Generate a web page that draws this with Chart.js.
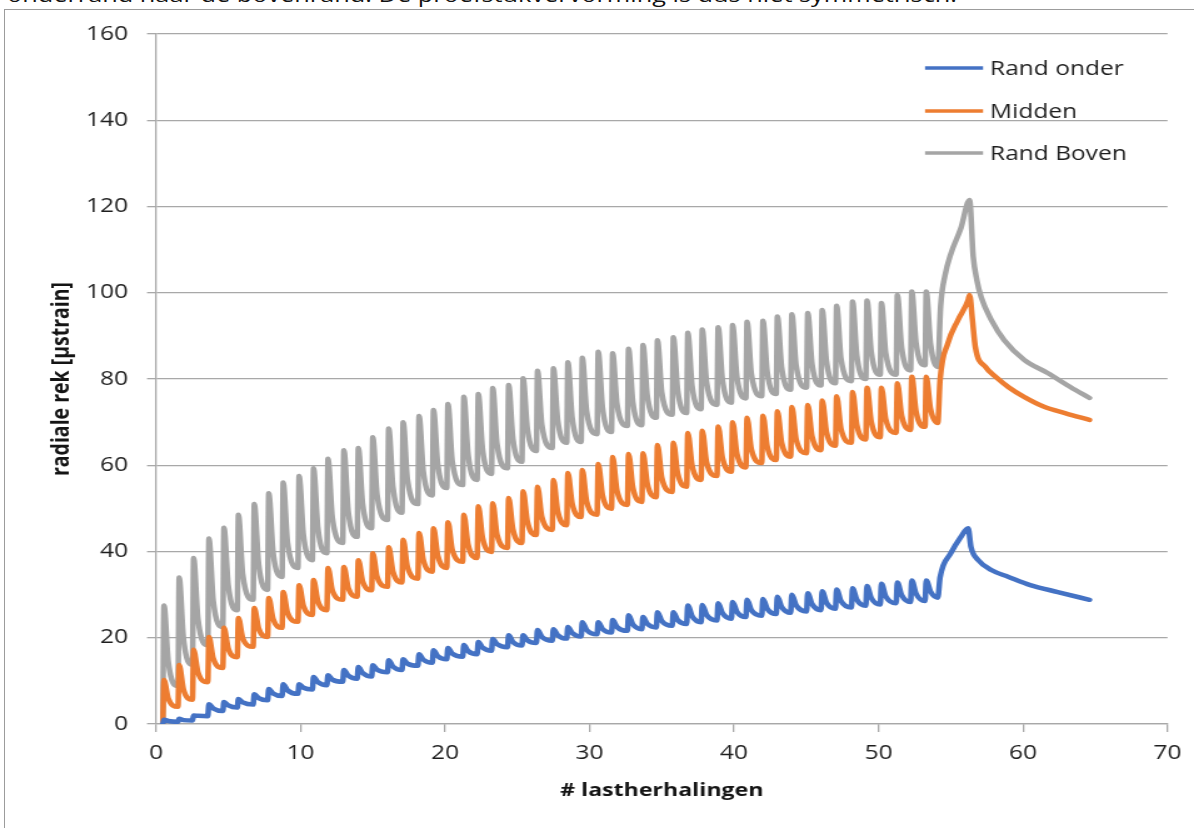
<!DOCTYPE html>
<html>
<head>
<meta charset="utf-8">
<script src="https://cdn.jsdelivr.net/npm/chart.js@4.4.1/dist/chart.umd.min.js"></script>
<style>
  html, body { margin: 0; padding: 0; background: #fff; width: 1194px; height: 828px; overflow: hidden; }
  #caption { position: absolute; left: 7px; top: -15px; font: 20px "Open Sans", sans-serif; line-height: 1; color: #111; white-space: nowrap; transform-origin: 0 0; }
  #frame { position: absolute; left: 4px; top: 9px; width: 1200px; height: 840px; border-left: 1px solid #9c9c9c; border-top: 1px solid #9c9c9c; }
  #wrap { position: absolute; left: 0; top: 0; width: 955px; height: 828px; transform: scaleX(1.2503); transform-origin: 0 0; }
</style>
</head>
<body>
<div id="caption">onderrand naar de bovenrand. De proefstukvervorming is dus niet symmetrisch.</div>
<div id="frame"></div>
<div id="wrap"><canvas id="chart"></canvas></div>
<script>
// Load cycles: x position (number of load repetitions) of each load peak
const cycleX = [0.55, 1.6, 2.6, 3.66, 4.7, 5.7, 6.8, 7.8, 8.8, 9.9, 10.9, 11.9, 13.0, 14.0, 15.0, 16.1, 17.1, 18.2, 19.2, 20.2,
  21.3, 22.3, 23.3, 24.4, 25.4, 26.4, 27.5, 28.5, 29.5, 30.6, 31.6, 32.7, 33.7, 34.7, 35.8, 36.8, 37.8, 38.9, 39.9, 40.9,
  42.0, 43.0, 44.0, 45.1, 46.1, 47.1, 48.2, 49.2, 50.2, 51.3, 52.3, 53.3];

// Rand onder: strain at the start of each cycle, at the peak, and after the fast relaxation
const blueTroughs = [0, 0.5, 0.8, 1.8, 3, 3.8, 4.5, 5.5, 6.5, 7, 8, 9, 9.8, 10.5, 11, 12, 12.5, 13.5, 14.2, 15,
  15.6, 16.2, 17, 17.8, 18.2, 18.8, 19.3, 19.8, 20.3, 20.8, 21.2, 21.6, 22, 22.4, 22.8, 23.2, 23.6, 24, 24.4, 24.8,
  25.1, 25.5, 25.8, 26.1, 26.4, 26.7, 27, 27.4, 27.7, 28, 28.3, 28.5];
const bluePeaks = [1, 1.2, 2, 4.6, 5.1, 5.8, 6.9, 8.1, 9.2, 9.2, 10.9, 11.3, 12.5, 13.2, 13.6, 14.8, 15, 16.2, 17.1, 17.6,
  18.3, 19, 19.7, 20.6, 20.6, 21.8, 22, 22.5, 23.6, 23.6, 24.1, 25.2, 24.8, 25.9, 25.9, 27.5, 27.6, 28, 28.3, 28.8,
  29, 29.5, 30, 30.3, 30.8, 31.2, 31.5, 32, 32.5, 32.8, 33.3, 33.3];
const blueKnees = [0.7, 0.9, 1.9, 3.6, 4.3, 5, 6, 7.1, 7.8, 8.4, 9.7, 10.3, 11.2, 11.8, 12.6, 13.3, 14, 14.9, 15.7, 16.3,
  16.9, 17.7, 18.5, 19, 19.4, 20.2, 20.6, 21.1, 21.8, 22, 22.5, 23.1, 23.2, 23.9, 24.1, 25, 25.3, 25.7, 26, 26.4,
  26.7, 27.1, 27.5, 27.8, 28.1, 28.5, 28.8, 29.2, 29.6, 29.9, 30.2, 30.7];
const blueTailX = [54.1, 54.26, 55.0, 55.7, 56.2, 56.4, 56.9, 57.8, 59.0, 60.5, 62.4, 64.6];
const blueTailY = [29.3, 34, 39.6, 43.4, 45.4, 41, 38, 35.7, 34.1, 32.2, 30.6, 28.8];

// Midden
const orangeTroughs = [0, 4, 5.6, 9.7, 13, 15.5, 17.9, 20.2, 22.3, 23.7, 25.3, 26.4, 28.8, 29.5, 31, 31.8, 32.8, 33.7, 35.3, 36.2,
  37.6, 38.5, 39.9, 40.8, 42, 43.8, 45, 46.1, 48, 48.5, 49.9, 50.8, 51.5, 52.6, 53.8, 55, 56.6, 57.5, 58.5, 59.5,
  60.5, 61.2, 62, 62.8, 63.5, 64.5, 65.2, 66, 66.5, 67.5, 68.2, 68.9];
const orangePeaks = [10.2, 13.7, 17.2, 20.2, 22.3, 24.6, 26.9, 29.2, 30.6, 32.2, 33.4, 36.2, 36.4, 38, 39.6, 41, 42.7, 44.3, 45.4, 46.8,
  48.5, 50.5, 51.2, 52.4, 54, 55, 56.6, 58.2, 58.9, 60.3, 61.9, 62.6, 62.8, 64.7, 65.2, 67.5, 68, 69, 70, 71,
  71.5, 72.5, 73.5, 74, 75, 76, 77, 78, 78, 79, 80.5, 80.5];
const orangeKnees = [5.9, 8, 12, 15.2, 17.5, 19.9, 22.2, 24.4, 25.8, 27.4, 28.5, 31, 31.6, 33.1, 34.1, 35.3, 36.4, 38, 39, 40.4,
  41.5, 43.1, 43.9, 45.1, 46.9, 48, 49.3, 51.1, 51.6, 53, 54.1, 54.8, 55.7, 57.1, 58.1, 59.9, 60.7, 61.7, 62.7, 63.7,
  64.3, 65.2, 66, 66.7, 67.7, 68.5, 69.3, 70, 70.7, 71.5, 72.4, 73];
const orangeTailX = [54.1, 54.26, 54.8, 55.5, 56.2, 56.3, 56.5, 56.7, 57.4, 58.1, 59.0, 60.1, 61.5, 62.9, 64.6];
const orangeTailY = [69.8, 79.8, 88.3, 93.7, 98.3, 99.5, 93.7, 87.4, 82.8, 80.5, 78.1, 75.8, 73.5, 72.1, 70.5];

// Rand Boven
const greyTroughs = [0, 8.8, 13.7, 18.3, 22.5, 26.4, 28.8, 31.1, 34.1, 36.2, 38, 39.6, 42, 43.4, 45.4, 47.3, 49, 51, 53, 54.7,
  55.4, 56.6, 58, 59.3, 60.8, 63.3, 64, 65.2, 65.4, 67.2, 67.7, 69.1, 69.3, 71, 71.7, 72.1, 73, 74, 74.5, 75.5,
  76, 76.5, 77.5, 78, 78.5, 79, 79.5, 80, 81, 81, 82, 83.2];
const greyPeaks = [27.5, 34, 38.5, 43, 45.5, 48.5, 51, 53.5, 56, 57.5, 59.3, 61.5, 63.5, 64, 66.5, 68.5, 70, 71.4, 72.8, 74.2,
  75.9, 76.5, 77.9, 78.6, 80.2, 81.9, 82.5, 83.9, 84.9, 86.3, 86, 87, 87.9, 89, 89.7, 90.7, 91.5, 92, 92.5, 93.3,
  93.5, 94.5, 95, 95.3, 96, 97, 98, 98.2, 97.6, 99.5, 100.3, 100.3];
const greyKnees = [14.4, 19.8, 24.4, 28.6, 32.1, 34.7, 37.1, 39.9, 42.1, 43.9, 45.5, 47.9, 49.4, 51, 53.1, 54.9, 56.7, 58.5, 60.1, 61,
  62.4, 63.6, 64.9, 66.1, 68.4, 69.4, 70.4, 71, 72.5, 73.3, 74.2, 74.6, 76.1, 76.9, 77.4, 78.3, 79.3, 79.8, 80.6, 81.2,
  81.6, 82.6, 83.1, 83.5, 84.1, 84.8, 85.4, 86.2, 86, 87.3, 88.3, 88.1];
const greyTailX = [54.1, 54.3, 54.6, 55.0, 55.7, 56.3, 56.55, 56.8, 57.1, 57.8, 58.7, 60.1, 61.7, 63.3, 64.6];
const greyTailY = [82.8, 97, 104, 109, 115, 121.5, 108.5, 103, 99, 93.7, 89, 84.4, 81.4, 78.1, 75.6];

const seriesNames = ['Rand onder', 'Midden', 'Rand Boven'];
const xTicks = { min: 0, max: 70, step: 10 };
const yTicks = { min: 0, max: 160, step: 20 };

// Shape of one load cycle: the load rises just before the peak, relaxes quickly to the knee
const RISE = 0.08;
const KNEE = 0.3;

function buildSeries(troughs, peaks, knees, tailX, tailY) {
  const pts = [];
  cycleX.forEach((cx, k) => {
    pts.push({ x: cx - RISE, y: troughs[k] });
    pts.push({ x: cx, y: peaks[k] });
    pts.push({ x: cx + KNEE, y: knees[k] });
  });
  tailX.forEach((x, i) => pts.push({ x: x, y: tailY[i] }));
  return pts;
}

// Caption line above the chart frame
const caption = document.getElementById('caption');
const capW = caption.getBoundingClientRect().width;
caption.style.transform = 'scaleX(' + (950 / capW) + ')';

// The chart is drawn on a narrower canvas and stretched horizontally
const SX = 1194 / 955;
const cx = v => v / SX;

const gridColor = '#a8a8a8';
const textColor = '#1e1e1e';
const tickFont = { family: 'Open Sans', size: 19.6 };

const legendInside = {
  id: 'legendInside',
  afterDraw(chart) {
    const ctx = chart.ctx;
    const rows = [68, 111, 153];
    chart.data.datasets.forEach((ds, i) => {
      ctx.save();
      ctx.strokeStyle = ds.borderColor;
      ctx.lineWidth = 3.5;
      ctx.lineCap = 'butt';
      ctx.beginPath();
      ctx.moveTo(cx(925), rows[i]);
      ctx.lineTo(cx(983), rows[i]);
      ctx.stroke();
      ctx.fillStyle = textColor;
      ctx.font = '19.6px "Open Sans"';
      ctx.textAlign = 'left';
      ctx.textBaseline = 'middle';
      ctx.fillText(ds.label, cx(990), rows[i] + 1);
      ctx.restore();
    });
  }
};

new Chart(document.getElementById('chart'), {
  type: 'line',
  data: {
    datasets: [
      { label: seriesNames[0], data: buildSeries(blueTroughs, bluePeaks, blueKnees, blueTailX, blueTailY), borderColor: '#4472C4' },
      { label: seriesNames[1], data: buildSeries(orangeTroughs, orangePeaks, orangeKnees, orangeTailX, orangeTailY), borderColor: '#ED7D31' },
      { label: seriesNames[2], data: buildSeries(greyTroughs, greyPeaks, greyKnees, greyTailX, greyTailY), borderColor: '#A5A5A5' }
    ]
  },
  options: {
    responsive: true,
    maintainAspectRatio: false,
    animation: false,
    layout: { padding: { left: 0, right: 955 - cx(1170), top: 34, bottom: 0 } },
    elements: {
      point: { radius: 0, hoverRadius: 0 },
      line: { cubicInterpolationMode: 'monotone', borderWidth: 4.5, borderJoinStyle: 'round', borderCapStyle: 'round', fill: false }
    },
    plugins: { legend: { display: false }, tooltip: { enabled: false } },
    scales: {
      x: {
        type: 'linear',
        min: xTicks.min, max: xTicks.max,
        ticks: { stepSize: xTicks.step, font: tickFont, color: textColor, padding: 10, maxRotation: 0 },
        grid: { drawOnChartArea: false, drawTicks: true, tickLength: 8, color: gridColor, lineWidth: 1.3 },
        border: { display: true, color: gridColor, width: 1.3 },
        title: {
          display: true, text: '# lastherhalingen', color: '#141414',
          font: { family: 'Open Sans', size: 18.5, weight: 'bold' },
          padding: { top: 0, bottom: 26 }
        },
        afterFit(scale) { scale.height = 104; }
      },
      y: {
        min: yTicks.min, max: yTicks.max,
        ticks: { stepSize: yTicks.step, font: tickFont, color: textColor, padding: cx(19) },
        grid: { color: gridColor, lineWidth: 1.3, tickLength: cx(9) },
        border: { display: true, color: gridColor, width: 1.3 },
        title: {
          display: true, text: 'radiale rek [µstrain]', color: '#141414',
          font: { family: 'Open Sans', size: 19.5, weight: 'bold' },
          padding: { top: cx(61.5) - 11.7, bottom: 0 }
        },
        afterFit(scale) { scale.width = cx(156); }
      }
    }
  },
  plugins: [legendInside]
});
</script>
</body>
</html>
